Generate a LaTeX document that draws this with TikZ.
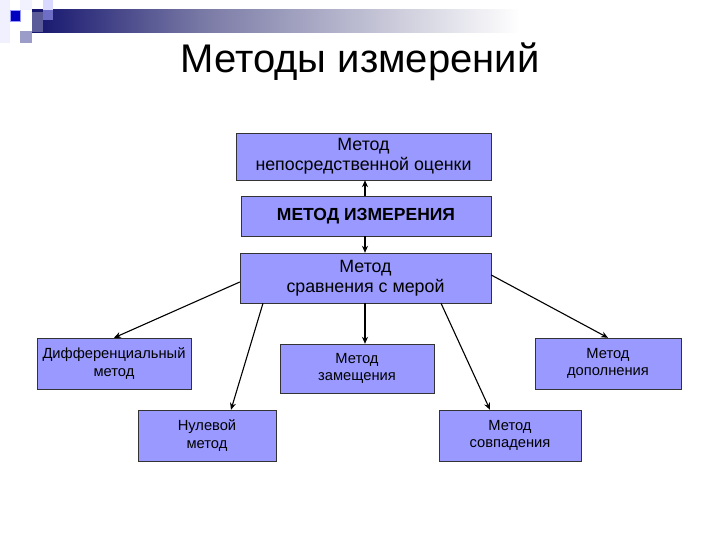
\documentclass[tikz,border=0pt]{standalone}
\usepackage{fontspec}
\setmainfont{Liberation Sans}
\usetikzlibrary{calc,arrows.meta}
\definecolor{boxfill}{RGB}{153,153,255}
\definecolor{navyb}{RGB}{20,20,110}
\definecolor{midb}{RGB}{120,120,165}
\definecolor{lightb}{RGB}{205,205,220}
\begin{document}
\begin{tikzpicture}[x=1pt,y=-1pt,
  bigbox/.style={draw=black!80,fill=boxfill,inner sep=0pt,align=center,font=\fontsize{17.8}{20}\selectfont},
  smallbox/.style={draw=black!80,fill=boxfill,inner sep=0pt,align=center,font=\fontsize{14.7}{17.5}\selectfont},
  arr/.style={-{Stealth[length=7pt,width=6pt]},line width=1.1pt,black}]
\useasboundingbox (0,0) rectangle (720,540);
\fill[white] (0,0) rectangle (720,540);
% header decoration
\fill[blue!6] (0,0) rectangle (10,43);
\shade[left color=navyb,right color=midb] (32,10) rectangle (200,33);
\shade[left color=midb,right color=lightb] (199.5,10) rectangle (400,33);
\shade[left color=lightb,right color=white] (399.5,10) rectangle (520,33);
\fill[navyb!70!white] (32,12) rectangle (43,32);
\fill[blue!15] (43,0) rectangle (53,10);
\fill[blue!35!navyb!60!white] (43,10) rectangle (53,20);
\fill[blue!5] (20,0) rectangle (32,10);
\fill[blue!75!black,draw=blue!40] (10,10) rectangle (20,21);
\fill[blue!30!gray!60] (20,31) rectangle (32,43);
% title
\node (title) at (360,62) {\fontsize{40}{46}\selectfont Методы измерений};
% boxes
\node[bigbox,minimum width=255pt,minimum height=47pt] (top) at (363.5,156.5) {Метод\\непосредственной оценки};
\node[bigbox,minimum width=250pt,minimum height=40pt,font=\fontsize{17.5}{20}\selectfont\bfseries] (mi) at (366,216) {МЕТОД ИЗМЕРЕНИЯ};
\node[bigbox,minimum width=251pt,minimum height=50pt] (sr) at (365.5,278) {Метод\\сравнения с мерой};
\node[smallbox,minimum width=154pt,minimum height=51pt] (diff) at (114,363.5) {Дифференциальный\\метод};
\node[smallbox,minimum width=154pt,minimum height=49pt] (zam) at (357,368.5) {Метод\\замещения};
\node[smallbox,minimum width=146pt,minimum height=51pt] (dop) at (608,363.5) {Метод\\дополнения};
\node[smallbox,minimum width=138pt,minimum height=51pt] (nul) at (207,435.5) {Нулевой\\метод};
\node[smallbox,minimum width=142pt,minimum height=51pt] (sov) at (510,435.5) {Метод\\совпадения};
\coordinate (cx) at (365,0);
% connectors
\draw[arr] (mi.north -| cx) -- (top.south -| cx);
\draw[arr] (mi.south -| cx) -- (sr.north -| cx);
\draw[arr] (sr.south -| cx) -- (zam.north -| cx);
\draw[arr] ($(sr.west)+(0,4)$) -- (diff.north);
\draw[arr] ($(sr.south)+(-102.5,0)$) -- ($(nul.north)+(24,0)$);
\draw[arr] ($(sr.south)+(75.5,0)$) -- ($(sov.north)+(-20,0)$);
\draw[arr] ($(sr.east)+(0,-3)$) -- (dop.north);
\end{tikzpicture}
\end{document}
